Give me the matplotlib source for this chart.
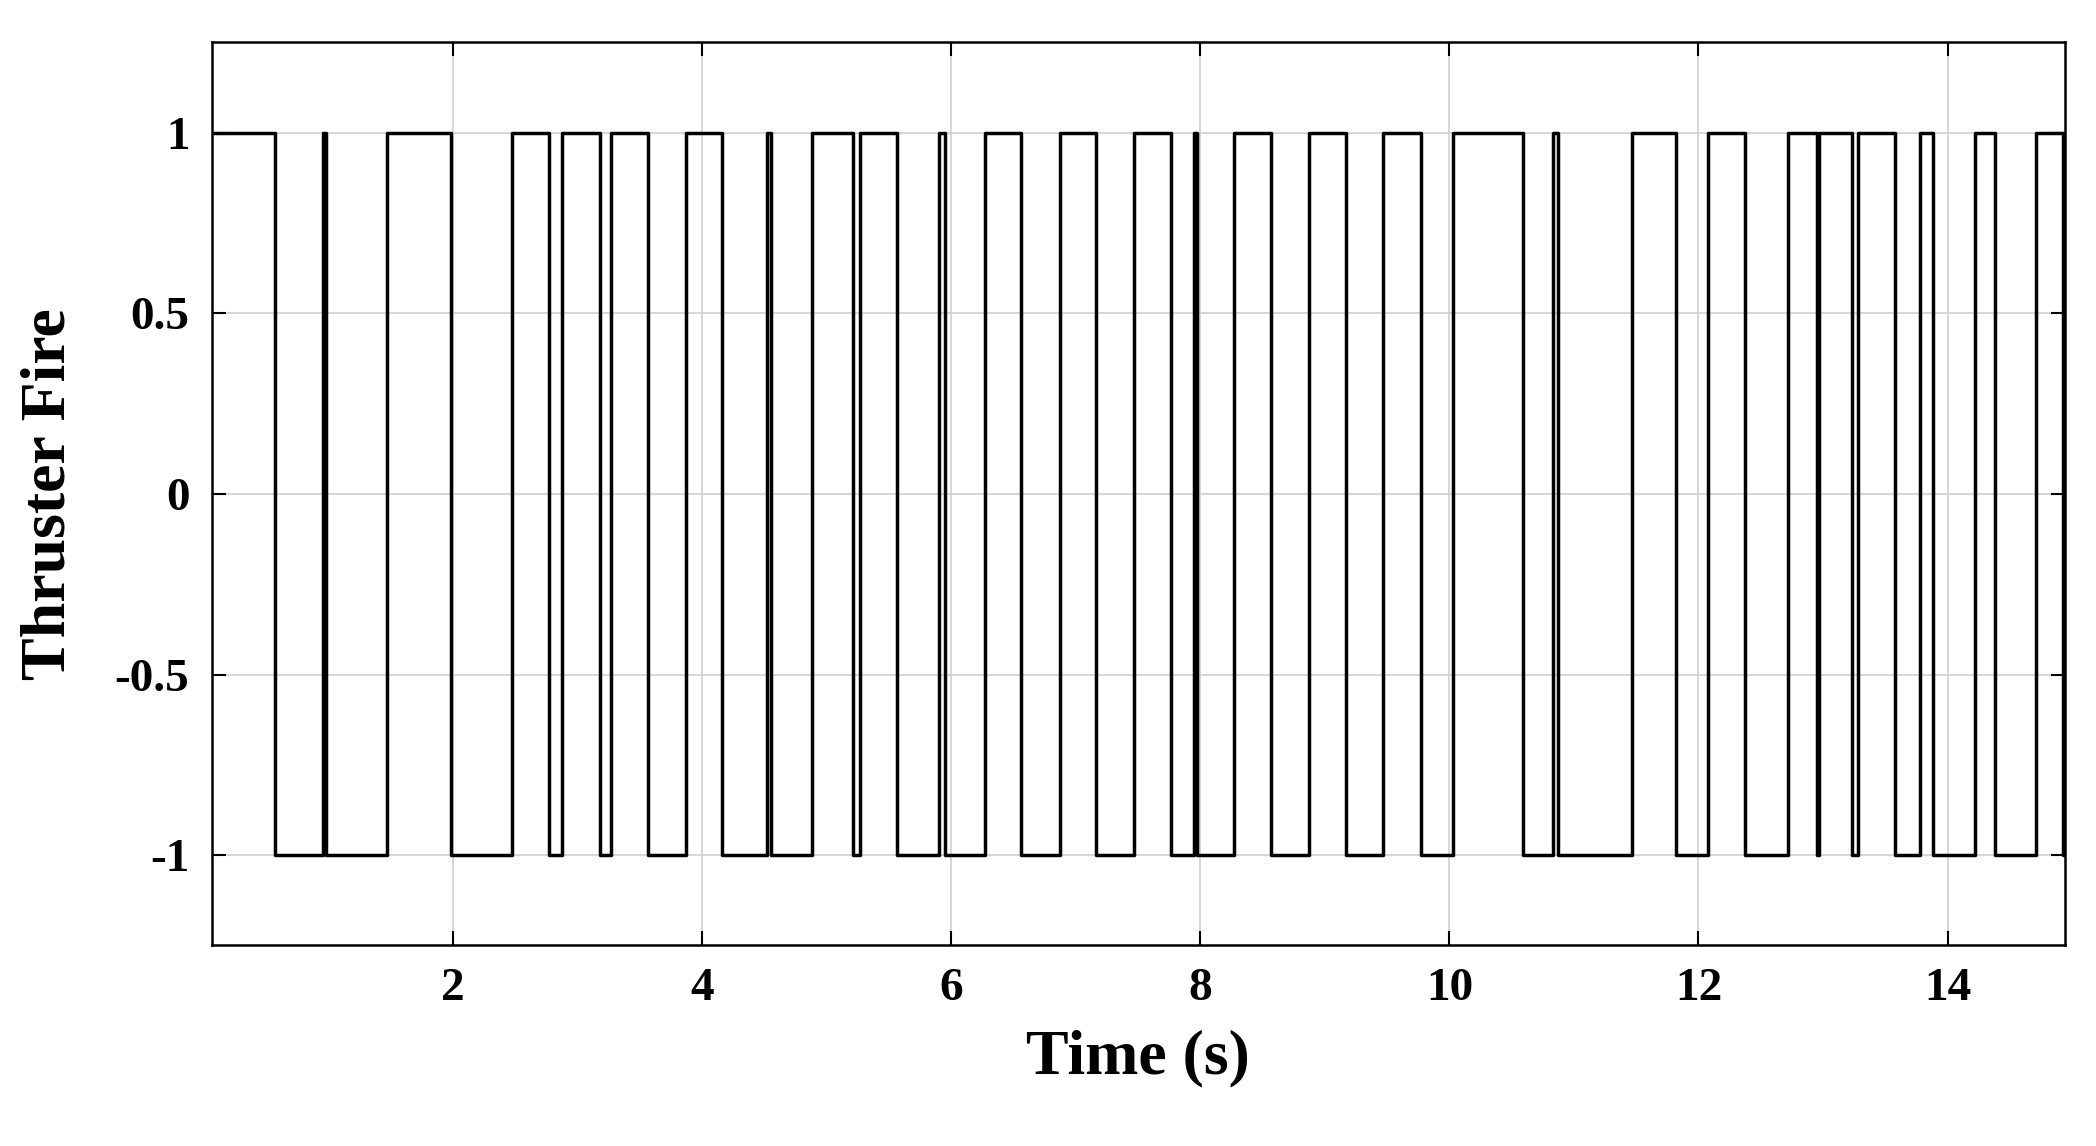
import matplotlib.pyplot as plt
import numpy as np

plt.rcParams['font.family'] = ['Liberation Serif', 'DejaVu Serif']
plt.rcParams['font.weight'] = 'bold'

# thruster firing intervals (s) where the command is +1, otherwise -1
on_start = [0.06, 0.95, 1.47, 2.47, 2.87, 3.27, 3.87, 4.52, 4.88, 5.27, 5.90,
            6.27, 6.87, 7.47, 7.95, 8.27, 8.87, 9.47, 10.03, 10.83, 11.47,
            12.08, 12.72, 12.97, 13.28, 13.78, 14.22, 14.71]
on_end = [0.57, 0.98, 1.98, 2.77, 3.18, 3.56, 4.16, 4.55, 5.21, 5.56, 5.95,
          6.56, 7.16, 7.76, 7.97, 8.57, 9.17, 9.77, 10.59, 10.87, 11.82,
          12.37, 12.95, 13.23, 13.58, 13.88, 14.38, 14.93]
t_end = 14.94

t = [on_start[0]]
v = [1]
for s, e in zip(on_start, on_end):
    if s > t[-1]:
        t.append(s)
        v.append(1)
    t.append(e)
    v.append(-1)
t.append(t_end)
v.append(-1)

fig = plt.figure(figsize=(20.96, 11.46), dpi=100)
ax = fig.add_axes([0.101, 0.175, 0.884, 0.788])
ax.step(t, v, where='post', color='black', lw=2.5)
ax.set_xlim(0.06, 14.94)
ax.set_ylim(-1.25, 1.25)
ax.set_xticks([2, 4, 6, 8, 10, 12, 14])
ax.set_yticks([-1, -0.5, 0, 0.5, 1])
ax.set_yticklabels(['-1', '-0.5', '0', '0.5', '1'])
ax.grid(True, color='#d0d0d0', lw=1.2)
ax.tick_params(direction='in', length=10, width=1.5, top=True, right=True,
               labelsize=34, pad=16)
for sp in ax.spines.values():
    sp.set_linewidth(1.8)
ax.set_xlabel('Time (s)', fontsize=46, fontweight='bold', labelpad=14)
ax.set_ylabel('Thruster Fire', fontsize=46, fontweight='bold', labelpad=26)
fig.savefig('out.png', dpi=100)
